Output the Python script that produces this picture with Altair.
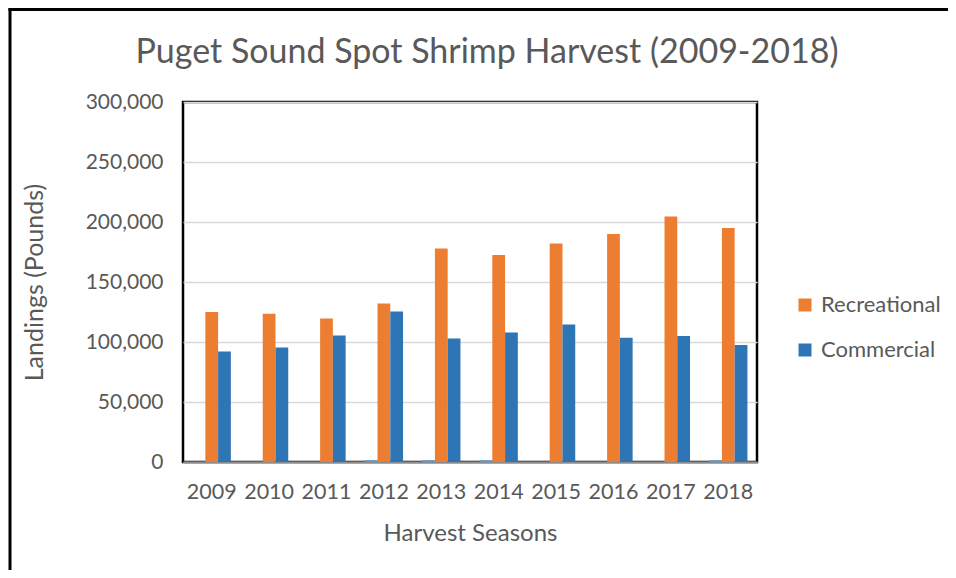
import altair as alt
import pandas as pd

years = ["2009", "2010", "2011", "2012", "2013", "2014", "2015", "2016", "2017", "2018"]
recreational = [125000, 123500, 119500, 132000, 178000, 172500, 182000, 190000, 204500, 195000]
commercial = [92000, 95500, 105500, 125500, 103000, 108000, 114500, 103500, 105000, 97500]
other = [0, 0, 0, 1500, 1500, 1500, 0, 0, 0, 1500]
y_ticks = [0, 50000, 100000, 150000, 200000, 250000, 300000]

series_names = ["Other", "Recreational", "Commercial"]
series_colors = ["#5B9BD5", "#ED7D31", "#2E75B6"]

rows = []
for i, y in enumerate(years):
    rows.append({"year": y, "series": "Other", "value": other[i]})
    rows.append({"year": y, "series": "Recreational", "value": recreational[i]})
    rows.append({"year": y, "series": "Commercial", "value": commercial[i]})
df = pd.DataFrame(rows)

FONT = "Lato"
GRAY = "#595959"

bars = alt.Chart(df).mark_bar().encode(
    x=alt.X("year:N", sort=years,
            scale=alt.Scale(paddingInner=0.333, paddingOuter=0.1667),
            axis=alt.Axis(title="Harvest Seasons", labelAngle=0, ticks=False,
                          domainColor="#8C8C8C", domainWidth=2,
                          labelFontSize=21.5, labelPadding=19, labelColor=GRAY,
                          titleFontSize=24, titleColor=GRAY, titlePadding=19,
                          titleFontWeight="normal", labelFont=FONT, titleFont=FONT)),
    xOffset=alt.XOffset("series:N", sort=series_names),
    y=alt.Y("value:Q",
            scale=alt.Scale(domain=[0, 300000]),
            axis=alt.Axis(title="Landings (Pounds)", values=y_ticks,
                          labelOverlap=False,
                          format=",.0f", ticks=False, domain=False,
                          gridColor="#D9D9D9", gridWidth=1.5,
                          labelFontSize=21, labelPadding=20, labelColor=GRAY,
                          titleFontSize=25, titleColor=GRAY, titlePadding=38,
                          titleFontWeight="normal", labelFont=FONT, titleFont=FONT)),
    color=alt.Color("series:N",
                    scale=alt.Scale(domain=series_names, range=series_colors),
                    legend=alt.Legend(title=None, values=["Recreational", "Commercial"],
                                      orient="none", legendX=611, legendY=192,
                                      symbolType="square", symbolSize=169,
                                      symbolStrokeWidth=0,
                                      labelFontSize=22, labelColor=GRAY, labelFont=FONT,
                                      labelOffset=5, rowPadding=23)),
)

frame = alt.Chart(alt.Data(values=[{"a": 1}])).mark_rule(color="black", strokeWidth=3).encode(
    x=alt.value(-173), y=alt.value(-94), y2=alt.value(480)
)
frame_top = alt.Chart(alt.Data(values=[{"a": 1}])).mark_rule(color="black", strokeWidth=3).encode(
    x=alt.value(-174.5), x2=alt.value(780), y=alt.value(-92.5)
)

chart = alt.layer(bars, frame, frame_top).properties(
    width=574, height=360,
    autosize=alt.AutoSizeParams(type="none"),
    padding={"left": 175, "top": 94, "right": 191, "bottom": 108},
    title=alt.TitleParams("Puget Sound Spot Shrimp Harvest (2009-2018)",
                          fontSize=34, font=FONT, color=GRAY, fontWeight="normal",
                          anchor="middle", dx=17, dy=89, offset=26),
).configure_view(stroke="black", strokeWidth=2.5)

chart.save("out.html", embed_options={"renderer": "svg", "actions": False})
